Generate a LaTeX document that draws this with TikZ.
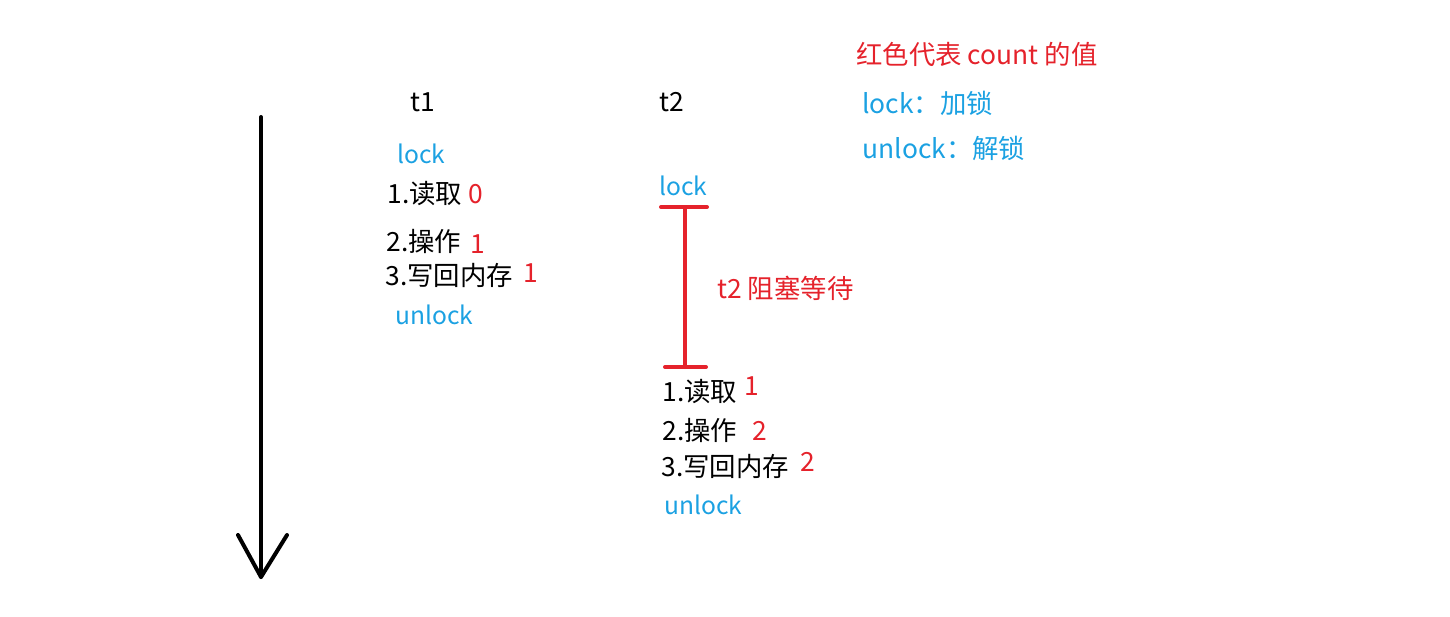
\documentclass[tikz,border=0pt]{standalone}
\usepackage{fontspec}
\setmainfont{Noto Sans CJK SC}
\definecolor{myred}{HTML}{E5222B}
\definecolor{myblue}{HTML}{1BA1E2}
\begin{document}
\begin{tikzpicture}[x=0.5pt,y=-0.5pt,
  txt/.style={anchor=west,inner sep=0pt,font=\fontsize{13.2}{15}\selectfont,text=black},
  bl/.style={txt,text=myblue},
  blw/.style={bl,font=\fontsize{12.3}{14}\selectfont},
  rd/.style={txt,text=myred},
  axis/.style={line width=2pt,line cap=round,line join=round},
  bar/.style={line width=2pt,myred,line cap=round}]
\useasboundingbox (0,0) rectangle (1450,616);
% time arrow
\coordinate (top) at (261,117);
\coordinate (tip) at (261,577);
\coordinate (hl) at (238,535);
\coordinate (hr) at (287,535);
\draw[axis] (top) -- (tip);
\draw[axis] (hl) -- (tip) -- (hr);
% headings
\node[txt] (t1) at (410,102) {t1};
\node[txt] (t2) at (659,102) {t2};
% t1 column
\node[blw] (l1) at (397,154) {lock};
\node[txt] (a1) at (387,194) {1.读取};
\node[rd] (a1v) at (468,194) {0};
\node[txt] (b1) at (386,241) {2.操作};
\node[rd] (b1v) at (470,244) {1};
\node[txt] (c1) at (385,275) {3.写回内存};
\node[rd] (c1v) at (523,273) {1};
\node[blw] (u1) at (395,315) {unlock};
% t2 column
\node[blw] (l2) at (659,186) {lock};
\coordinate (ta) at (661,207);
\coordinate (tb) at (707,207);
\coordinate (tm) at (685,207);
\coordinate (ba) at (665,367);
\coordinate (bb) at (706,367);
\coordinate (bm) at (685,367);
\draw[bar] (ta) -- (tb);
\draw[bar] (ba) -- (bb);
\draw[bar] (tm) -- (bm);
\node[rd] (wait) at (717,288) {t2 阻塞等待};
\node[txt] (a2) at (662,392) {1.读取};
\node[rd] (a2v) at (744,386) {1};
\node[txt] (b2) at (662,430) {2.操作};
\node[rd] (b2v) at (752,431) {2};
\node[txt] (c2) at (661,466) {3.写回内存};
\node[rd] (c2v) at (800,462) {2};
\node[blw] (u2) at (664,505) {unlock};
% legend
\node[rd] (lg1) at (856,54) {红色代表 count 的值};
\node[bl] (lg2) at (862,103) {lock：加锁};
\node[bl] (lg3) at (862,148) {unlock：解锁};
\end{tikzpicture}
\end{document}
